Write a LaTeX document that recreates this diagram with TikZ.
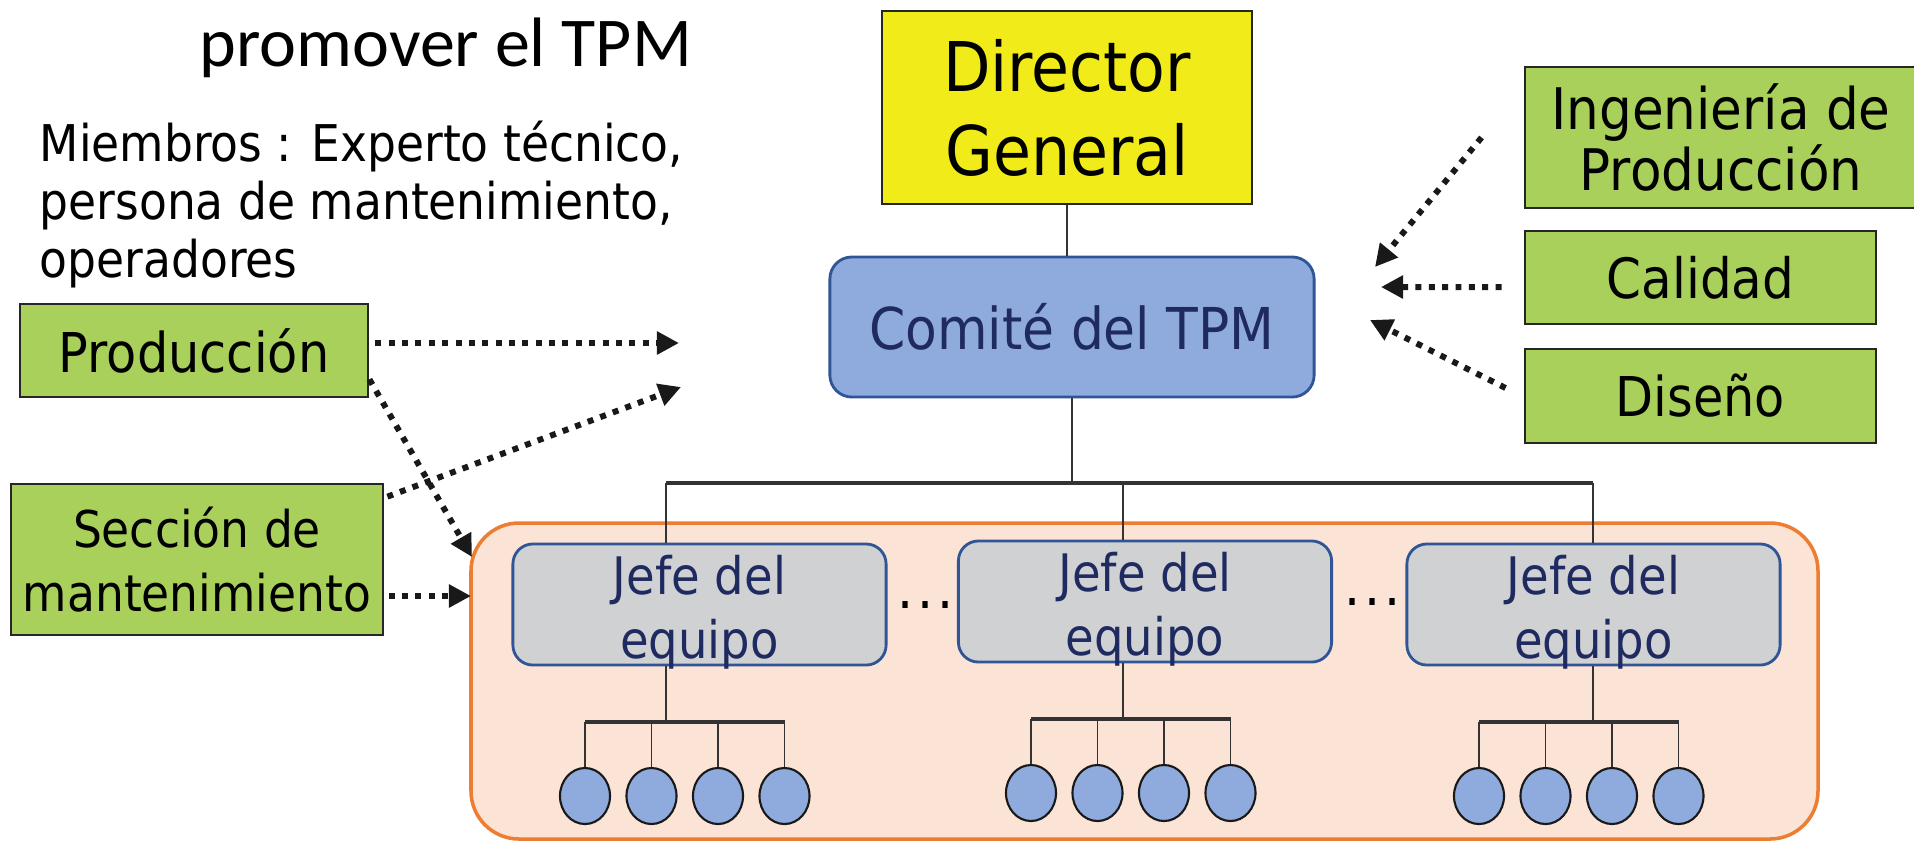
\documentclass[tikz,border=0pt]{standalone}
\usepackage{fontspec}
\setmainfont{DejaVu Sans}[FakeStretch=0.9]
\newfontfamily\headfont{Carlito}
\usetikzlibrary{arrows.meta,shapes.geometric,positioning}

\definecolor{boxgreen}{HTML}{A8D05A}
\definecolor{diryellow}{HTML}{F2EB1A}
\definecolor{tpmblue}{HTML}{8FAADC}
\definecolor{tpmedge}{HTML}{2F5597}
\definecolor{jefegray}{HTML}{D0D1D3}
\definecolor{teamfill}{HTML}{FBE3D6}
\definecolor{teamedge}{HTML}{ED7D31}
\definecolor{navytext}{HTML}{1F2A60}
\definecolor{linegray}{HTML}{333333}

\begin{document}
\begin{tikzpicture}[x=0.01cm, y=-0.01cm,
	greenbox/.style={draw=black!85, line width=0.75pt, fill=boxgreen, align=center, inner sep=0pt},
	dirbox/.style={draw=black!85, line width=0.65pt, fill=diryellow, align=center, inner sep=0pt},
	comitebox/.style={draw=tpmedge, line width=0.8pt, fill=tpmblue, rounded corners=0.22cm, text=navytext, inner sep=0pt},
	jefebox/.style={draw=tpmedge, line width=0.8pt, fill=jefegray, rounded corners=0.2cm, minimum width=3.73cm, minimum height=1.21cm},
	jefetext/.style={text=navytext, align=center, inner sep=0pt, font=\fontsize{14.7}{18.2}\selectfont},
	member/.style={ellipse, draw=black!90, line width=0.6pt, fill=tpmblue, minimum width=0.5cm, minimum height=0.56cm, inner sep=0pt},
	treeline/.style={draw=linegray, line width=0.55pt},
	busline/.style={draw=linegray, line width=0.9pt},
	dotstext/.style={inner sep=0pt, font=\fontsize{16}{18}\selectfont},
	dotarrow/.style={draw=black!90, line width=1.7pt, dash pattern=on 1.7pt off 2.1pt, -{Triangle[length=6.3pt,width=6.3pt]}}
]
	\useasboundingbox (0,0) rectangle (1914,841);

	% zone of the team leaders
	\draw[fill=teamfill, draw=teamedge, line width=1pt, rounded corners=0.48cm] (471,523) rectangle (1818,839);

	\node[anchor=base west, inner sep=0pt, font=\headfont\fontsize{19.9}{23}\selectfont] (title) at (199,66) {promover el TPM};
	\node[anchor=base west, align=left, inner sep=0pt, font=\fontsize{14.4}{16.4}\selectfont] (members) at (39,277)
		{Miembros : Experto técnico,\\persona de mantenimiento,\\operadores};

	\node[greenbox, minimum width=3.48cm, minimum height=0.93cm, font=\fontsize{15.6}{18}\selectfont] (prod) at (194,350.5) {Producción};
	\node[greenbox, minimum width=3.72cm, minimum height=1.51cm, font=\fontsize{14.4}{18.2}\selectfont] (secc) at (197,559.5) {Sección de\\mantenimiento};

	\node[dirbox, minimum width=3.70cm, minimum height=1.93cm, font=\fontsize{19.5}{23.9}\selectfont] (dir) at (1067,107.5) {Director\\General};
	\node[comitebox, minimum width=4.84cm, minimum height=1.40cm, font=\fontsize{16.4}{19}\selectfont] (comite) at (1072,327) {Comité del TPM};

	\node[greenbox, minimum width=3.92cm, minimum height=1.41cm, font=\fontsize{16.3}{15.9}\selectfont] (ing) at (1721,137.5) {Ingeniería de\\Producción};
	\node[greenbox, minimum width=3.51cm, minimum height=0.93cm, font=\fontsize{15.8}{18}\selectfont] (cal) at (1700.5,277.5) {Calidad};
	\node[greenbox, minimum width=3.51cm, minimum height=0.94cm, font=\fontsize{15.6}{18}\selectfont] (dis) at (1700.5,396) {Diseño};

	\node[jefebox] (jefe1) at (699.5,604.5) {};
	\node[jefebox] (jefe2) at (1145,601.5) {};
	\node[jefebox] (jefe3) at (1593.5,604.5) {};
	\node[jefetext] (jefe1t) at (699.5,612) {Jefe del\\equipo};
	\node[jefetext] (jefe2t) at (1145,609) {Jefe del\\equipo};
	\node[jefetext] (jefe3t) at (1593.5,612) {Jefe del\\equipo};

	\node[dotstext] (dots1) at (926,605) {.\kern1.1pt.\kern1.1pt.};
	\node[dotstext] (dots2) at (1373,602) {.\kern1.1pt.\kern1.1pt.};

	% organisation lines
	\coordinate (busl) at (666,483);
	\coordinate (busm) at (1123,483);
	\coordinate (busr) at (1593,483);
	\draw[treeline] (dir.south) -- (dir.south |- comite.north);
	\draw[treeline] (comite.south) -- (comite.south |- busl);
	\draw[busline] (busl) -- (busr);
	\draw[treeline] (busl) -- (busl |- jefe1.north);
	\draw[treeline] (busm) -- (busm |- jefe2.north);
	\draw[treeline] (busr) -- (busr |- jefe3.north);

	\foreach \j/\xj/\xa/\yb in {1/666/585/722, 2/1123/1031/719, 3/1593/1479/722}{
		\coordinate (drop\j) at (\xj,\yb);
		\draw[treeline] (drop\j |- jefe\j.south) -- (drop\j);
		\foreach \k in {0,...,3}{
			\node[member] (m\j\k) at (\xa+66.5*\k,\yb+74) {};
			\draw[treeline] (m\j\k.north) -- (m\j\k.north |- drop\j);
		}
		\draw[busline] (m\j0.north |- drop\j) -- (m\j3.north |- drop\j);
	}

	% dotted arrows
	\coordinate (prodend) at (679,343);
	\coordinate (zoneend1) at (472,557);
	\coordinate (seccend) at (681,387);
	\coordinate (zoneend2) at (471,596);
	\coordinate (ingend) at (1375,267);
	\coordinate (calend) at (1381,287);
	\coordinate (disend) at (1370,320);

	\draw[dotarrow, shorten <=1.7pt] (prod.east |- prodend) -- (prodend);
	\draw[dotarrow] ([yshift=0.19cm]prod.south east) -- (zoneend1);
	\draw[dotarrow] ([xshift=0.03cm,yshift=-0.14cm]secc.north east) -- (seccend);
	\draw[dotarrow, shorten <=1.2pt] (secc.east |- zoneend2) -- (zoneend2);
	\draw[dotarrow] ([xshift=-0.42cm]ing.west) -- (ingend);
	\draw[dotarrow] ([xshift=-0.22cm,yshift=-0.095cm]cal.west) -- (calend);
	\draw[dotarrow] ([xshift=-0.18cm,yshift=0.08cm]dis.west) -- (disend);

\end{tikzpicture}
\end{document}
